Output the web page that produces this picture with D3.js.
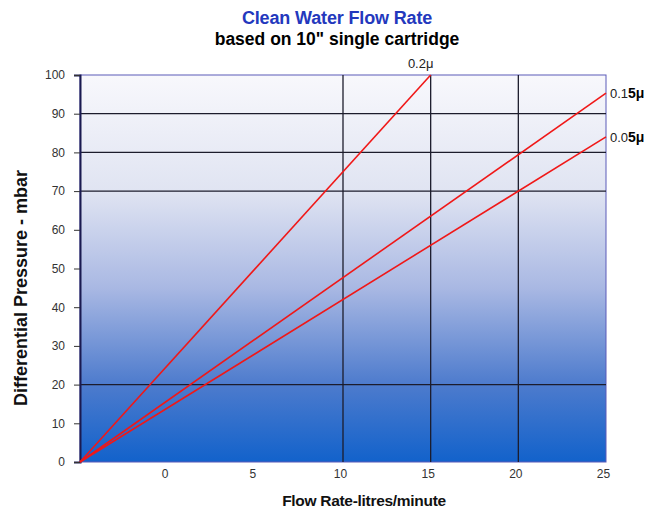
<!DOCTYPE html>
<html>
<head>
<meta charset="utf-8">
<script src="https://cdn.jsdelivr.net/npm/d3@7"></script>
<style>
  body { margin: 0; background: #fff; }
  text { font-family: "Liberation Sans", Arial, sans-serif; }
</style>
</head>
<body>
<script>
// chart values
var xTicks = [0, 5, 10, 15, 20, 25]
  , yTicks = [0, 10, 20, 30, 40, 50, 60, 70, 80, 90, 100]
  , gridX = [10, 15, 20]
  , gridY = [20, 70, 80, 90]
  ;

// each membrane rating: start / end point (flow, pressure)
var seriesNames = ["0.2μ", "0.1", "0.0"]
  , seriesBold = ["", "5μ", "5μ"]
  , series02 = [[-5, 0], [15, 100]]
  , series01 = [[-5, 0], [25, 95.3]]
  , series005 = [[-5, 0], [25, 84]]
  ;

var width = 660
  , height = 513
  , plotLeft = 80
  , plotRight = 606
  , plotTop = 75
  , plotBottom = 462
  ;

var svg = d3.select("body").append("svg").attr("width", width).attr("height", height);

var x = d3.scaleLinear().domain([-5, 25]).range([plotLeft, plotRight]);
var y = d3.scaleLinear().domain([0, 100]).range([plotBottom, plotTop]);

var grad = svg.append("defs").append("linearGradient")
    .attr("id", "bg").attr("x1", 0).attr("y1", 0).attr("x2", 0).attr("y2", 1);
[[0, "#f8f8fc"], [0.3, "#e0e4f2"], [0.55, "#a9b8e3"], [0.8, "#4d7bcd"], [1, "#1262cb"]]
    .forEach(function (s) {
        grad.append("stop").attr("offset", s[0]).attr("stop-color", s[1]);
    });

svg.append("rect")
    .attr("x", plotLeft).attr("y", plotTop)
    .attr("width", plotRight - plotLeft).attr("height", plotBottom - plotTop)
    .attr("fill", "url(#bg)")
    .attr("stroke", "#5a5ab8").attr("stroke-width", 1);

// grid
svg.selectAll(".gy").data(gridY).enter().append("line")
    .attr("x1", plotLeft).attr("x2", plotRight)
    .attr("y1", function (d) { return y(d); }).attr("y2", function (d) { return y(d); })
    .attr("stroke", "#1c1c2c").attr("stroke-width", 1.3);
svg.selectAll(".gx").data(gridX).enter().append("line")
    .attr("y1", plotTop).attr("y2", plotBottom)
    .attr("x1", function (d) { return x(d); }).attr("x2", function (d) { return x(d); })
    .attr("stroke", "#1c1c2c").attr("stroke-width", 1.3);

// y axis
var yAxis = svg.append("g")
    .attr("transform", "translate(" + plotLeft + ",0)")
    .call(d3.axisLeft(y).tickValues(yTicks).tickSize(6).tickPadding(9));
yAxis.select(".domain").attr("stroke", "#1a1a50").attr("stroke-width", 2);
yAxis.selectAll(".tick line").attr("stroke", "#333");
yAxis.selectAll("text").attr("font-size", 12).attr("fill", "#333");

// x axis labels (no domain line)
var xAxis = svg.append("g")
    .attr("transform", "translate(-3," + plotBottom + ")")
    .call(d3.axisBottom(x).tickValues(xTicks).tickSize(0).tickPadding(7));
xAxis.select(".domain").remove();
xAxis.selectAll("text").attr("font-size", 12).attr("fill", "#333");

// series lines
var line = d3.line()
    .x(function (d) { return x(d[0]); })
    .y(function (d) { return y(d[1]); });

[series02, series01, series005].forEach(function (s) {
    svg.append("path")
        .attr("d", line(s))
        .attr("fill", "none")
        .attr("stroke", "#f01818")
        .attr("stroke-width", 1.6);
});

// series labels
svg.append("text")
    .attr("x", x(15) - 10).attr("y", y(100) - 7)
    .attr("text-anchor", "middle").attr("font-size", 13).attr("fill", "#222")
    .text(seriesNames[0]);

[[series01, 1], [series005, 2]].forEach(function (p) {
    var end = p[0][p[0].length - 1];
    var t = svg.append("text")
        .attr("x", x(end[0]) + 4).attr("y", y(end[1]) + 5)
        .attr("font-size", 13).attr("fill", "#222")
        .text(seriesNames[p[1]]);
    t.append("tspan").attr("font-weight", "bold").attr("fill", "#000")
        .attr("font-size", 14).text(seriesBold[p[1]]);
});

// titles
svg.append("text")
    .attr("x", 337).attr("y", 24)
    .attr("text-anchor", "middle").attr("font-size", 18).attr("font-weight", "bold")
    .attr("fill", "#2338bd").attr("letter-spacing", -0.15)
    .text("Clean Water Flow Rate");
svg.append("text")
    .attr("x", 337).attr("y", 45)
    .attr("text-anchor", "middle").attr("font-size", 17.5).attr("font-weight", "bold")
    .attr("fill", "#000")
    .text("based on 10\" single cartridge");

svg.append("text")
    .attr("transform", "translate(27,288) rotate(-90)")
    .attr("text-anchor", "middle").attr("font-size", 18).attr("font-weight", "bold")
    .attr("fill", "#111")
    .text("Differential Pressure - mbar");

svg.append("text")
    .attr("x", 364).attr("y", 506)
    .attr("text-anchor", "middle").attr("font-size", 15.5).attr("font-weight", "bold")
    .attr("fill", "#111").attr("letter-spacing", -0.3)
    .text("Flow Rate-litres/minute");
</script>
</body>
</html>
